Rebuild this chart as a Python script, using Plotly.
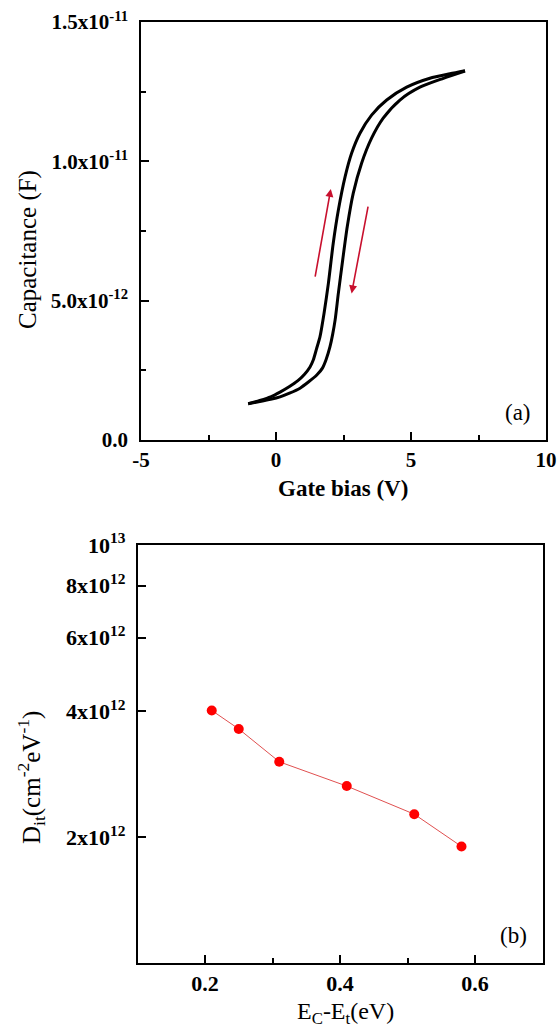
import plotly.graph_objects as go

# ---------------- data ----------------
# (a) C-V hysteresis
v_up = [-1.03, -0.6, -0.2, 0.15, 0.5, 0.8, 1.05, 1.26, 1.38, 1.51, 1.63, 1.78, 1.94, 2.12,
        2.31, 2.56, 2.80, 3.11, 3.54, 4.10, 4.84, 5.70, 6.44, 7.00]
c_up = [1.30, 1.42, 1.55, 1.72, 1.92, 2.12, 2.35, 2.62, 2.87, 3.30, 3.71, 4.55, 5.62, 7.06,
        8.25, 9.45, 10.29, 11.01, 11.66, 12.20, 12.66, 12.98, 13.14, 13.25]
v_down = [-1.03, -0.6, -0.2, 0.15, 0.5, 0.89, 1.2, 1.51, 1.72, 1.85, 2.0, 2.1, 2.19, 2.31,
          2.47, 2.64, 2.86, 3.17, 3.54, 3.97, 4.59, 5.33, 6.20, 7.00]
c_down = [1.30, 1.38, 1.46, 1.55, 1.68, 1.86, 2.08, 2.33, 2.58, 2.87, 3.35, 3.80, 4.31, 5.27,
          6.46, 7.66, 8.85, 9.93, 10.83, 11.55, 12.20, 12.66, 12.98, 13.24]
c_scale = 1e-12

# (b) interface trap density
ec_et = [0.21, 0.25, 0.31, 0.41, 0.51, 0.58]
dit = [4.02e12, 3.63e12, 3.03e12, 2.65e12, 2.27e12, 1.90e12]

cap_tickvals = [0, 5e-12, 1e-11, 1.5e-11]
cap_ticktext = ["0.0", "5.0x10<sup>-12</sup>", "1.0x10<sup>-11</sup>", "1.5x10<sup>-11</sup>"]
gate_tickvals = [-5, 0, 5, 10]
gate_ticktext = ["-5", "0", "5", "10"]
dit_tickvals = [2e12, 4e12, 6e12, 8e12, 1e13]
dit_ticktext = ["2x10<sup>12</sup>", "4x10<sup>12</sup>", "6x10<sup>12</sup>",
                "8x10<sup>12</sup>", "10<sup>13</sup>"]
e_tickvals = [0.2, 0.4, 0.6]
e_ticktext = ["0.2", "0.4", "0.6"]

# ---------------- layout geometry ----------------
W, H = 558, 1031
L, R, T, B = 137, 12, 22, 68
PW, PH = W - L - R, H - T - B


def px(x):
    return (x - L) / PW


def py(y):
    return (H - B - y) / PH


SERIF = "Liberation Serif"
tickfont_a = dict(family=SERIF, size=21, color="black")
tickfont_b = dict(family=SERIF, size=22, color="black")

fig = go.Figure()

fig.add_trace(go.Scatter(x=v_up, y=[c * c_scale for c in c_up], mode="lines",
                         line=dict(color="black", width=3, shape="spline", smoothing=0.7),
                         xaxis="x", yaxis="y", showlegend=False))
fig.add_trace(go.Scatter(x=v_down, y=[c * c_scale for c in c_down], mode="lines",
                         line=dict(color="black", width=3, shape="spline", smoothing=0.7),
                         xaxis="x", yaxis="y", showlegend=False))

fig.add_trace(go.Scatter(x=ec_et, y=dit, mode="lines+markers",
                         line=dict(color="#e05050", width=1),
                         marker=dict(color="#ff0000", size=10),
                         xaxis="x2", yaxis="y2", showlegend=False))

axis_common = dict(showline=True, linecolor="black", linewidth=1.5, mirror=True,
                   showgrid=False, zeroline=False, ticks="inside", tickcolor="black",
                   tickwidth=1.5, automargin=False)


def bold(lst):
    return ["<b>" + s + "</b>" for s in lst]


fig.update_layout(
    width=W, height=H,
    margin=dict(l=L, r=R, t=T, b=B, autoexpand=False),
    paper_bgcolor="white", plot_bgcolor="white",
    font=dict(family=SERIF, color="black"),
    xaxis=dict(domain=[px(141), px(546)], anchor="y", range=[-5, 10],
               tickvals=gate_tickvals, ticktext=bold(gate_ticktext), ticklen=8,
               tickfont=tickfont_a, ticklabelstandoff=0,
               minor=dict(tickmode="linear", tick0=-5, dtick=2.5, ticks="inside",
                          ticklen=5, tickcolor="black", tickwidth=1.5),
               **axis_common),
    yaxis=dict(domain=[py(440), py(22)], anchor="x", range=[0, 1.5e-11],
               tickvals=cap_tickvals, ticktext=bold(cap_ticktext), ticklen=8,
               tickfont=tickfont_a, ticklabelstandoff=7,
               minor=dict(tickmode="linear", tick0=0, dtick=2.5e-12, ticks="inside",
                          ticklen=5, tickcolor="black", tickwidth=1.5),
               **axis_common),
    xaxis2=dict(domain=[px(137.5), px(542.5)], anchor="y2", range=[0.1, 0.7],
                tickvals=e_tickvals, ticktext=bold(e_ticktext), ticklen=8,
                tickfont=tickfont_b, ticklabelstandoff=0,
                minor=dict(tickmode="linear", tick0=0.1, dtick=0.1, ticks="inside",
                           ticklen=5, tickcolor="black", tickwidth=1.5),
                **axis_common),
    yaxis2=dict(domain=[py(963), py(545)], anchor="x2", type="log", range=[12, 13],
                tickvals=dit_tickvals, ticktext=bold(dit_ticktext), ticklen=9,
                tickfont=tickfont_b, ticklabelstandoff=6, **axis_common),
)

ann = []
# axis titles
ann.append(dict(text="Capacitance (F)", x=px(28), y=py(250), xref="paper", yref="paper",
                textangle=-90, showarrow=False, xanchor="center", yanchor="middle",
                font=dict(family=SERIF, size=25, color="black")))
ann.append(dict(text="<b>Gate bias (V)</b>", x=px(343), y=py(488), xref="paper", yref="paper",
                showarrow=False, xanchor="center", yanchor="middle",
                font=dict(family=SERIF, size=23, color="black")))
ann.append(dict(text="D<sub>it</sub>(cm<sup>-2</sup>eV<sup>-1</sup>)", x=px(31), y=py(778),
                xref="paper", yref="paper", textangle=-90, showarrow=False,
                xanchor="center", yanchor="middle",
                font=dict(family=SERIF, size=25, color="black")))
ann.append(dict(text="E<sub>C</sub>-E<sub>t</sub>(eV)", x=px(345), y=py(1030),
                xref="paper", yref="paper", showarrow=False,
                xanchor="center", yanchor="bottom",
                font=dict(family=SERIF, size=24, color="black")))
# panel labels
ann.append(dict(text="(a)", x=px(518), y=py(412), xref="paper", yref="paper",
                showarrow=False, xanchor="center", yanchor="middle",
                font=dict(family=SERIF, size=23, color="black")))
ann.append(dict(text="(b)", x=px(513), y=py(935), xref="paper", yref="paper",
                showarrow=False, xanchor="center", yanchor="middle",
                font=dict(family=SERIF, size=23, color="black")))
# sweep direction arrows
ann.append(dict(x=2.03, y=9.01e-12, ax=1.44, ay=5.81e-12, xref="x", yref="y",
                axref="x", ayref="y", text="", showarrow=True, arrowhead=2,
                arrowsize=1, arrowwidth=1.6, arrowcolor="#c8102e"))
ann.append(dict(x=2.80, y=5.26e-12, ax=3.42, ay=8.43e-12, xref="x", yref="y",
                axref="x", ayref="y", text="", showarrow=True, arrowhead=2,
                arrowsize=1, arrowwidth=1.6, arrowcolor="#c8102e"))
fig.update_layout(annotations=ann)

fig.write_html("out.html", config={"displayModeBar": False},
               post_script="document.body.style.margin='0px';document.body.style.padding='0px';")
